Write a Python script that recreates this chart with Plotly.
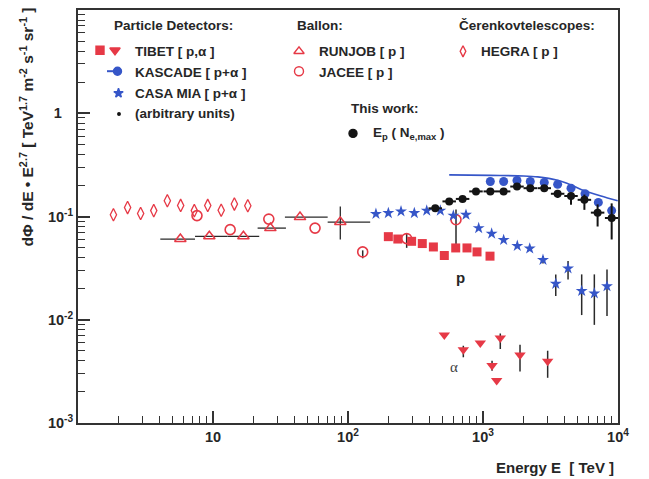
import numpy as np
import plotly.graph_objects as go

# ---------------- data ----------------
hegra_x = [1.83, 2.33, 2.91, 3.64, 4.59, 5.76, 7.27, 9.14, 11.5, 14.4, 18.1]
hegra_y = [0.104, 0.122, 0.107, 0.114, 0.142, 0.128, 0.114, 0.128, 0.115, 0.132, 0.127]

runjob_x = [5.73, 9.39, 16.8, 26.6, 44.1, 87.7]
runjob_y = [0.0605, 0.0643, 0.0643, 0.0772, 0.0987, 0.0884]
runjob_xlo = [4.07, 7.36, 12.8, 21.4, 34.1, 70.7]
runjob_xhi = [7.36, 12.8, 22.0, 34.7, 70.7, 146.0]
runjob_ylo = [0.0605, 0.0643, 0.0643, 0.0772, 0.0987, 0.0598]
runjob_yhi = [0.0605, 0.0643, 0.0643, 0.0772, 0.0987, 0.125]

jacee_x = [7.61, 13.4, 25.9, 57.0, 128.5, 272, 631]
jacee_y = [0.102, 0.0746, 0.0944, 0.0772, 0.0454, 0.0611, 0.0931]
jacee_ylo = [0.102, 0.0746, 0.0944, 0.0772, 0.0394, 0.0497, 0.046]
jacee_yhi = [0.102, 0.0746, 0.0944, 0.0772, 0.0470, 0.0692, 0.117]

tibet_p_x = [199, 234, 296, 355, 429, 517, 628, 761, 903, 1127]
tibet_p_y = [0.0638, 0.0605, 0.0575, 0.0547, 0.0507, 0.0419, 0.0496, 0.0496, 0.0454, 0.0413]

tibet_a_x = [517, 715, 955, 1167, 1263, 1343, 1880, 3013]
tibet_a_y = [0.00711, 0.00513, 0.00595, 0.00360, 0.00258, 0.00666, 0.00456, 0.00396]
tibet_a_ylo = [0.00711, 0.00433, 0.00595, 0.00320, 0.00258, 0.00521, 0.00315, 0.00274]
tibet_a_yhi = [0.00711, 0.00560, 0.00595, 0.00400, 0.00258, 0.00736, 0.00573, 0.00501]

casa_x = [161, 199, 247, 310, 383, 483, 603, 748, 929, 1159, 1422, 1795, 2219, 2782,
          3459, 4266, 5383, 6680, 8290]
casa_y = [0.106, 0.108, 0.112, 0.108, 0.114, 0.114, 0.102, 0.104, 0.0772, 0.0682, 0.0593,
          0.0519, 0.0490, 0.0380, 0.0223, 0.0314, 0.0190, 0.0180, 0.0211]
casa_ylo = [0.106, 0.108, 0.112, 0.108, 0.114, 0.114, 0.102, 0.104, 0.0772, 0.0682, 0.0593,
            0.0519, 0.0490, 0.0350, 0.0170, 0.0245, 0.0111, 0.00892, 0.0109]
casa_yhi = [0.106, 0.108, 0.112, 0.108, 0.114, 0.114, 0.102, 0.104, 0.0772, 0.0682, 0.0593,
            0.0519, 0.0490, 0.0415, 0.0275, 0.0370, 0.0275, 0.0275, 0.0307]

kascade_x = [1133, 1422, 1786, 2240, 2843, 3572, 4487, 5698, 7151, 8977]
kascade_y = [0.218, 0.218, 0.223, 0.218, 0.214, 0.205, 0.188, 0.166, 0.137, 0.114]

kascade_line_x = [562, 1133, 2000, 2541, 3572, 4487, 5321, 7482, 9950]
kascade_line_y = [0.253, 0.250, 0.247, 0.242, 0.224, 0.202, 0.183, 0.158, 0.142]

work_x = [443, 562, 706, 887, 1133, 1422, 1786, 2240, 2843, 3572, 4487, 5637, 7063, 8977]
work_y = [0.120, 0.140, 0.148, 0.175, 0.175, 0.175, 0.195, 0.188, 0.188, 0.166, 0.158,
          0.145, 0.109, 0.0967]
work_ylo = [0.120, 0.140, 0.148, 0.170, 0.170, 0.170, 0.188, 0.180, 0.178, 0.151, 0.130,
            0.116, 0.080, 0.0599]
work_yhi = [0.120, 0.140, 0.148, 0.180, 0.180, 0.180, 0.202, 0.196, 0.198, 0.181, 0.168,
            0.163, 0.131, 0.134]
work_bin_halfwidth_log = 0.05

x_tickvals = [10, 100, 1000, 10000]
x_ticktext = ["10", "10<sup>2</sup>", "10<sup>3</sup>", "10<sup>4</sup>"]
y_tickvals = [0.001, 0.01, 0.1, 1, 10]
y_ticktext = ["10<sup>-3</sup>", "10<sup>-2</sup>", "10<sup>-1</sup>",
              "1<sup>\u2007\u2007</sup>", "10<sup>\u2007\u2007</sup>"]

# ---------------- styling ----------------
RED = "#e63946"
BLUE = "#3656c8"
BLACK = "#141414"
ERR = "#2a2a2a"
TXT = "#262626"
FONT = "Liberation Sans, Arial, sans-serif"

W, H = 649, 479
ML, MR, MT, MB = 78, 31, 8, 56


def asym(v, lo, hi):
    v = np.asarray(v, float)
    return np.asarray(hi, float) - v, v - np.asarray(lo, float)


fig = go.Figure()

# HEGRA
fig.add_trace(go.Scatter(x=hegra_x, y=hegra_y, mode="markers",
                         marker=dict(symbol="diamond-tall-open", size=9, color=RED,
                                     line=dict(width=1.3, color=RED))))

# RUNJOB
rx_p, rx_m = asym(runjob_x, runjob_xlo, runjob_xhi)
ry_p, ry_m = asym(runjob_y, runjob_ylo, runjob_yhi)
fig.add_trace(go.Scatter(x=runjob_x, y=runjob_y, mode="markers",
                         error_x=dict(type="data", symmetric=False, array=rx_p, arrayminus=rx_m,
                                      color=ERR, thickness=1.3, width=0),
                         error_y=dict(type="data", symmetric=False, array=ry_p, arrayminus=ry_m,
                                      color=ERR, thickness=1.3, width=0),
                         marker=dict(symbol="triangle-up-open", size=10, color=RED,
                                     line=dict(width=1.5, color=RED))))

# JACEE
jy_p, jy_m = asym(jacee_y, jacee_ylo, jacee_yhi)
fig.add_trace(go.Scatter(x=jacee_x, y=jacee_y, mode="markers",
                         error_y=dict(type="data", symmetric=False, array=jy_p, arrayminus=jy_m,
                                      color=ERR, thickness=1.5, width=0),
                         marker=dict(symbol="circle-open", size=10, color=RED,
                                     line=dict(width=1.6, color=RED))))

# TIBET p
fig.add_trace(go.Scatter(x=tibet_p_x, y=tibet_p_y, mode="markers",
                         marker=dict(symbol="square", size=9, color=RED)))

# TIBET alpha
ty_p, ty_m = asym(tibet_a_y, tibet_a_ylo, tibet_a_yhi)
fig.add_trace(go.Scatter(x=tibet_a_x, y=tibet_a_y, mode="markers",
                         error_y=dict(type="data", symmetric=False, array=ty_p, arrayminus=ty_m,
                                      color=ERR, thickness=1.5, width=0),
                         marker=dict(symbol="triangle-down", size=10, color=RED)))

# CASA MIA
cy_p, cy_m = asym(casa_y, casa_ylo, casa_yhi)
fig.add_trace(go.Scatter(x=casa_x, y=casa_y, mode="markers",
                         error_y=dict(type="data", symmetric=False, array=cy_p, arrayminus=cy_m,
                                      color=ERR, thickness=1.5, width=0),
                         marker=dict(symbol="star", size=9, color=BLUE)))

# KASCADE line
fig.add_trace(go.Scatter(x=kascade_line_x, y=kascade_line_y, mode="lines",
                         line=dict(color=BLUE, width=1.6, shape="spline", smoothing=0.8)))

# KASCADE points
fig.add_trace(go.Scatter(x=kascade_x, y=kascade_y, mode="markers",
                         marker=dict(symbol="circle", size=9, color=BLUE)))

# This work
wx = np.asarray(work_x, float)
wx_p = wx * (10 ** work_bin_halfwidth_log - 1)
wx_m = wx * (1 - 10 ** (-work_bin_halfwidth_log))
wy_p, wy_m = asym(work_y, work_ylo, work_yhi)
fig.add_trace(go.Scatter(x=work_x, y=work_y, mode="markers",
                         error_x=dict(type="data", symmetric=False, array=wx_p, arrayminus=wx_m,
                                      color=BLACK, thickness=2, width=0),
                         error_y=dict(type="data", symmetric=False, array=wy_p, arrayminus=wy_m,
                                      color=BLACK, thickness=2, width=0),
                         marker=dict(symbol="circle", size=8, color=BLACK)))

# ---------------- legend symbols on a pixel overlay ----------------
leg_sym = [
    dict(x=[100], y=[48.5], symbol="square", size=8, color=RED),
    dict(x=[115], y=[48.5], symbol="triangle-down", size=9, color=RED),
    dict(x=[117.5], y=[69.5], symbol="circle", size=8, color=BLUE),
    dict(x=[118.5], y=[91.5], symbol="star", size=7, color=BLUE),
    dict(x=[119], y=[112.5], symbol="circle", size=2.5, color=BLACK),
    dict(x=[299], y=[49.5], symbol="triangle-up-open", size=9, color=RED),
    dict(x=[299], y=[69.5], symbol="circle-open", size=9, color=RED),
    dict(x=[463], y=[49.5], symbol="diamond-tall-open", size=8, color=RED),
    dict(x=[353], y=[132], symbol="circle", size=8, color=BLACK),
]
for s in leg_sym:
    fig.add_trace(go.Scatter(x=s["x"], y=s["y"], xaxis="x2", yaxis="y2", mode="markers",
                             marker=dict(symbol=s["symbol"], size=s["size"], color=s["color"],
                                         line=dict(width=1.4, color=s["color"]))))
fig.add_trace(go.Scatter(x=[107, 117], y=[69.5, 69.5], xaxis="x2", yaxis="y2", mode="lines",
                         line=dict(color=BLUE, width=2)))


def paper(px, py):
    return (px - ML) / (W - ML - MR), (H - MB - py) / (H - MT - MB)


texts = [
    ("Particle Detectors:", 112, 24, 13.5, "left"),
    ("Ballon:", 295, 24, 13.5, "left"),
    ("Čerenkovtelescopes:", 457, 24, 13.5, "left"),
    ("TIBET [ p,α ]", 133, 50, 13.5, "left"),
    ("KASCADE [ p+α ]", 133, 70.5, 13.5, "left"),
    ("CASA MIA [ p+α ]", 133, 91.5, 13.5, "left"),
    ("(arbitrary units)", 133, 112, 13.5, "left"),
    ("RUNJOB [ p ]", 317, 50, 13.5, "left"),
    ("JACEE [ p ]", 317, 70.5, 13.5, "left"),
    ("HEGRA [ p ]", 479, 50, 13.5, "left"),
    ("This work:", 349, 107, 13.5, "left"),
    ("E<sub>p</sub> ( N<sub>e,max</sub> )", 371, 132, 13.5, "left"),
    ("p", 460, 277, 15, "center"),
    ("Energy E  [ TeV ]", 616, 468, 15, "right"),
]
ann = []
for t, px, py, fs, xa in texts:
    xp, yp = paper(px, py)
    ann.append(dict(text=t, x=xp, y=yp, xref="paper", yref="paper", xanchor=xa,
                    yanchor="middle", showarrow=False,
                    font=dict(family=FONT, size=fs, color=TXT, weight="bold")))
xp, yp = paper(460, 377)
ann.append(dict(text="α", x=xp, y=yp, xref="paper", yref="paper", showarrow=False,
                font=dict(family="Liberation Serif, serif", size=15, color="#404040")))
xp, yp = paper(27, 126)
ann.append(dict(text="dΦ / dE • E<sup>2.7</sup> [ TeV<sup>1.7</sup> m<sup>-2</sup> s<sup>-1</sup> sr<sup>-1</sup> ]",
                x=xp, y=yp, xref="paper", yref="paper", textangle=-90, showarrow=False,
                xanchor="center", yanchor="middle",
                font=dict(family=FONT, size=15.5, color=TXT, weight="bold")))

minor_x = [k * 10.0 ** d for d in range(0, 4) for k in range(2, 10)]
minor_y = [k * 10.0 ** d for d in range(-3, 1) for k in range(2, 10)]

axis_common = dict(type="log", showgrid=False, zeroline=False, showline=True,
                   linewidth=2, linecolor="#333", mirror=True, ticks="inside",
                   ticklen=12, tickwidth=1.6, tickcolor="#333",
                   tickfont=dict(family=FONT, size=14.5, color=TXT, weight="bold"))

fig.update_layout(
    width=W, height=H, margin=dict(l=ML, r=MR, t=MT, b=MB),
    paper_bgcolor="white", plot_bgcolor="white", showlegend=False,
    xaxis=dict(**axis_common, range=[0, 4], tickmode="array", tickvals=x_tickvals,
               ticktext=x_ticktext,
               minor=dict(tickmode="array", tickvals=minor_x, ticks="inside", ticklen=7,
                          tickwidth=1.3, tickcolor="#333", showgrid=False)),
    yaxis=dict(**axis_common, range=[-3, 1], tickmode="array", tickvals=y_tickvals,
               ticktext=y_ticktext,
               minor=dict(tickmode="array", tickvals=minor_y, ticks="inside", ticklen=7,
                          tickwidth=1.3, tickcolor="#333", showgrid=False)),
    xaxis2=dict(overlaying="x", range=[ML, W - MR], visible=False),
    yaxis2=dict(overlaying="y", range=[H - MB, MT], visible=False),
    annotations=ann,
)

fig.write_html("out.html")
